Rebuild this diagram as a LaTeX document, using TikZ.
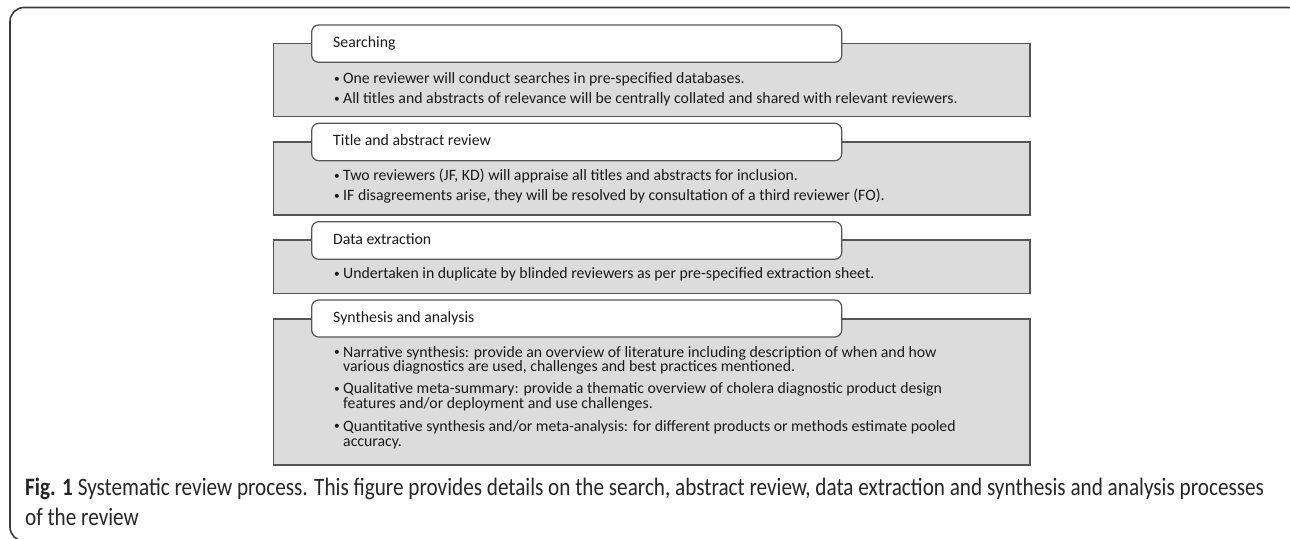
\documentclass[tikz,border=0pt]{standalone}
\usepackage{fontspec}
\setmainfont{Carlito}
\definecolor{framec}{HTML}{3A3A3A}
\definecolor{boxfill}{HTML}{DCDCDC}
\definecolor{boxline}{HTML}{555555}
\definecolor{txt}{HTML}{1A1A1A}
\definecolor{captxt}{HTML}{262626}
\tikzset{
  graybox/.style={draw=boxline, line width=1.3pt, fill=boxfill},
  tabbox/.style={draw=boxline, line width=1.2pt, fill=white, rounded corners=7pt},
  tabtext/.style={anchor=west, inner sep=0pt, text height=11pt, text depth=3.6pt, font=\fontsize{15.8}{18}\selectfont, text=txt},
  bul/.style={anchor=west, inner sep=0pt, text height=11pt, text depth=3.6pt, font=\fontsize{15.8}{18}\selectfont, text=txt},
  captext/.style={anchor=base west, inner sep=0pt, font=\fontsize{21.2}{24}\selectfont, text=captxt},
}
\newcommand{\bl}{\makebox[9pt][l]{\raisebox{1.1pt}{\scalebox{0.72}{•}}}}
\newcommand{\ind}{\hspace*{9pt}}
\begin{document}
\begin{tikzpicture}[x=1pt,y=-1pt]
\useasboundingbox (0,0) rectangle (1290,538);
\begin{scope}
\clip (0,0) rectangle (1290,538);
\draw[framec, line width=1.6pt, rounded corners=14pt] (10,7.5) rectangle (1302,541);
\end{scope}
% Box 1
\path[graybox] (273.3,43.3) rectangle (1030,116.7);
\path[tabbox] (311.7,25) rectangle (841.7,62.3);
\node[tabtext] (l1) at (333,43.6) {Searching};
\node[bul] (b11) at (334,80) {\bl One reviewer will conduct searches in pre-specified databases.};
\node[bul] (b12) at (334,100) {\bl All titles and abstracts of relevance will be centrally collated and shared with relevant reviewers.};
% Box 2
\path[graybox] (273.3,142) rectangle (1030,215);
\path[tabbox] (311.7,123.3) rectangle (841.7,160.7);
\node[tabtext] (l2) at (333,142) {Title and abstract review};
\node[bul] (b21) at (334,177) {\bl Two reviewers (JF, KD) will appraise all titles and abstracts for inclusion.};
\node[bul] (b22) at (334,197) {\bl IF disagreements arise, they will be resolved by consultation of a third reviewer (FO).};
% Box 3
\path[graybox] (273.3,240) rectangle (1030,293.3);
\path[tabbox] (311.7,221.7) rectangle (841.7,259.3);
\node[tabtext] (l3) at (333,240.5) {Data extraction};
\node[bul] (b31) at (334,275) {\bl Undertaken in duplicate by blinded reviewers as per pre-specified extraction sheet.};
% Box 4
\path[graybox] (273.3,319) rectangle (1030,465);
\path[tabbox] (311.7,300) rectangle (841.7,337);
\node[tabtext] (l4) at (333,318.5) {Synthesis and analysis};
\node[bul] (b41) at (334,353.3) {\bl Narrative synthesis: provide an overview of literature including description of when and how};
\node[bul] (b42) at (334,367.8) {\ind various diagnostics are used, challenges and best practices mentioned.};
\node[bul] (b43) at (334,390) {\bl Qualitative meta-summary: provide a thematic overview of cholera diagnostic product design};
\node[bul] (b44) at (334,405) {\ind features and/or deployment and use challenges.};
\node[bul] (b45) at (334,427.3) {\bl Quantitative synthesis and/or meta-analysis: for different products or methods estimate pooled};
\node[bul] (b46) at (334,442.8) {\ind accuracy.};
% Caption
\node[captext] (c1) at (25,495.7) {\scalebox{1}[1.18]{\textbf{Fig. 1} Systematic review process. This figure provides details on the search, abstract review, data extraction and synthesis and analysis processes}};
\node[captext] (c2) at (25,525) {\scalebox{1}[1.18]{of the review}};
\end{tikzpicture}
\end{document}
